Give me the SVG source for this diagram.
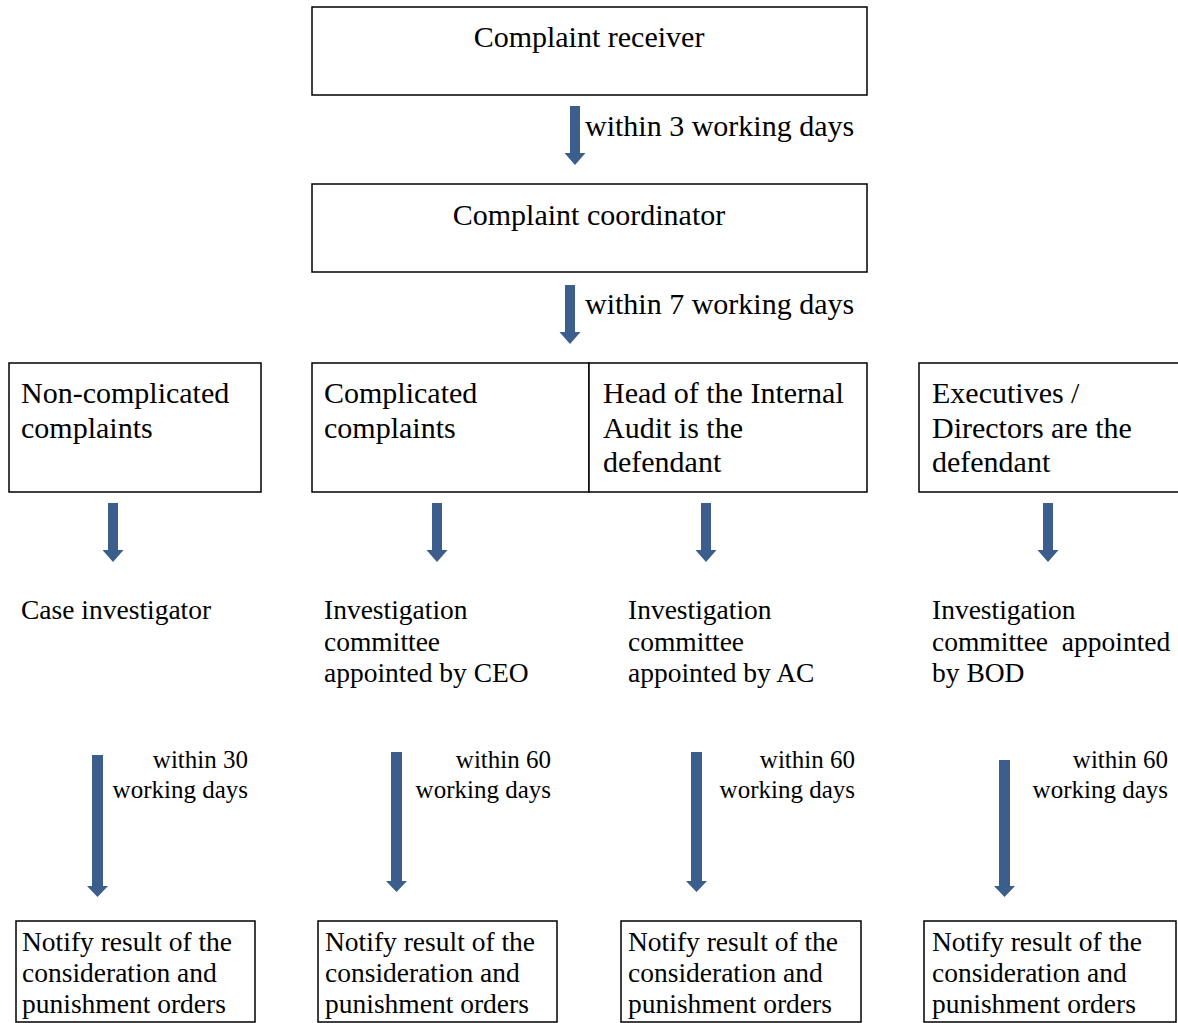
<svg xmlns="http://www.w3.org/2000/svg" width="1178" height="1023" viewBox="0 0 1178 1023">
<style>
.box{fill:#fff;stroke:#000;stroke-width:1.5}
.t{font-family:"Liberation Serif","Times New Roman",serif;fill:#000}
.big{font-size:30px}
.mid{font-size:27.5px}
.lab{font-size:25px}
.arr{fill:#3B5E8C}
</style>
<defs>
<path id="sa" d="M-5,0 H5 V47 H10.5 L0,59 L-10.5,47 H-5 Z"/>
</defs>
<rect width="1178" height="1023" fill="#fff"/>
<g id="receiver">
<rect class="box" x="312" y="7" width="555" height="88"/>
<text class="t big" x="589" y="47" text-anchor="middle">Complaint receiver</text>
</g>
<g id="coordinator">
<rect class="box" x="312" y="184" width="555" height="88"/>
<text class="t big" x="589" y="225" text-anchor="middle">Complaint coordinator</text>
</g>
<g id="noncomplicated">
<rect class="box" x="9" y="363" width="252" height="129"/>
<text class="t big" x="21" y="403">Non-complicated<tspan x="21" dy="34.5">complaints</tspan></text>
</g>
<g id="complicated">
<rect class="box" x="312" y="363" width="277" height="129"/>
<text class="t big" x="324" y="403">Complicated<tspan x="324" dy="34.5">complaints</tspan></text>
</g>
<g id="headaudit">
<rect class="box" x="589" y="363" width="278" height="129"/>
<text class="t big" x="603" y="403">Head of the Internal<tspan x="603" dy="34.5">Audit is the</tspan><tspan x="603" dy="34.5">defendant</tspan></text>
</g>
<g id="executives">
<rect class="box" x="919" y="363" width="262" height="129"/>
<text class="t big" x="932" y="403">Executives /<tspan x="932" dy="34.5">Directors are the</tspan><tspan x="932" dy="34.5">defendant</tspan></text>
</g>
<g id="caseinvestigator">
<text class="t mid" x="21" y="619">Case investigator</text>
</g>
<g id="committeeceo">
<text class="t mid" x="324" y="619">Investigation<tspan x="324" dy="31.5">committee</tspan><tspan x="324" dy="31.5">appointed by CEO</tspan></text>
</g>
<g id="committeeac">
<text class="t mid" x="628" y="619">Investigation<tspan x="628" dy="31.5">committee</tspan><tspan x="628" dy="31.5">appointed by AC</tspan></text>
</g>
<g id="committeebod">
<text class="t mid" x="932" y="619" style="white-space:pre">Investigation<tspan x="932" dy="31.5">committee  appointed</tspan><tspan x="932" dy="31.5">by BOD</tspan></text>
</g>
<g id="notify1">
<rect class="box" x="16" y="921" width="239" height="101"/>
<text class="t mid" x="22" y="951">Notify result of the<tspan x="22" dy="31">consideration and</tspan><tspan x="22" dy="31">punishment orders</tspan></text>
</g>
<g id="notify2">
<rect class="box" x="318" y="921" width="239" height="101"/>
<text class="t mid" x="325" y="951">Notify result of the<tspan x="325" dy="31">consideration and</tspan><tspan x="325" dy="31">punishment orders</tspan></text>
</g>
<g id="notify3">
<rect class="box" x="621" y="921" width="240" height="101"/>
<text class="t mid" x="628" y="951">Notify result of the<tspan x="628" dy="31">consideration and</tspan><tspan x="628" dy="31">punishment orders</tspan></text>
</g>
<g id="notify4">
<rect class="box" x="924" y="921" width="252" height="101"/>
<text class="t mid" x="932" y="951">Notify result of the<tspan x="932" dy="31">consideration and</tspan><tspan x="932" dy="31">punishment orders</tspan></text>
</g>
<g id="connectors">
<use href="#sa" class="arr" x="575" y="106"/>
<text class="t big" x="585" y="136">within 3 working days</text>
<use href="#sa" class="arr" x="570" y="285"/>
<text class="t big" x="585" y="314">within 7 working days</text>
<use href="#sa" class="arr" x="113" y="503"/>
<use href="#sa" class="arr" x="437" y="503"/>
<use href="#sa" class="arr" x="706" y="503"/>
<use href="#sa" class="arr" x="1048" y="503"/>
<path class="arr" d="M92,755 H103 V886 H108 L97.5,897 L87,886 H92 Z"/>
<path class="arr" d="M391,752 H402 V881 H407 L396.5,892 L386,881 H391 Z"/>
<path class="arr" d="M691,752 H702 V881 H707 L696.5,892 L686,881 H691 Z"/>
<path class="arr" d="M999,760 H1010 V886 H1015 L1004.5,897 L994,886 H999 Z"/>
<text class="t lab" x="248" y="768" text-anchor="end">within 30<tspan x="248" dy="30">working days</tspan></text>
<text class="t lab" x="551" y="768" text-anchor="end">within 60<tspan x="551" dy="30">working days</tspan></text>
<text class="t lab" x="855" y="768" text-anchor="end">within 60<tspan x="855" dy="30">working days</tspan></text>
<text class="t lab" x="1168" y="768" text-anchor="end">within 60<tspan x="1168" dy="30">working days</tspan></text>
</g>
</svg>
